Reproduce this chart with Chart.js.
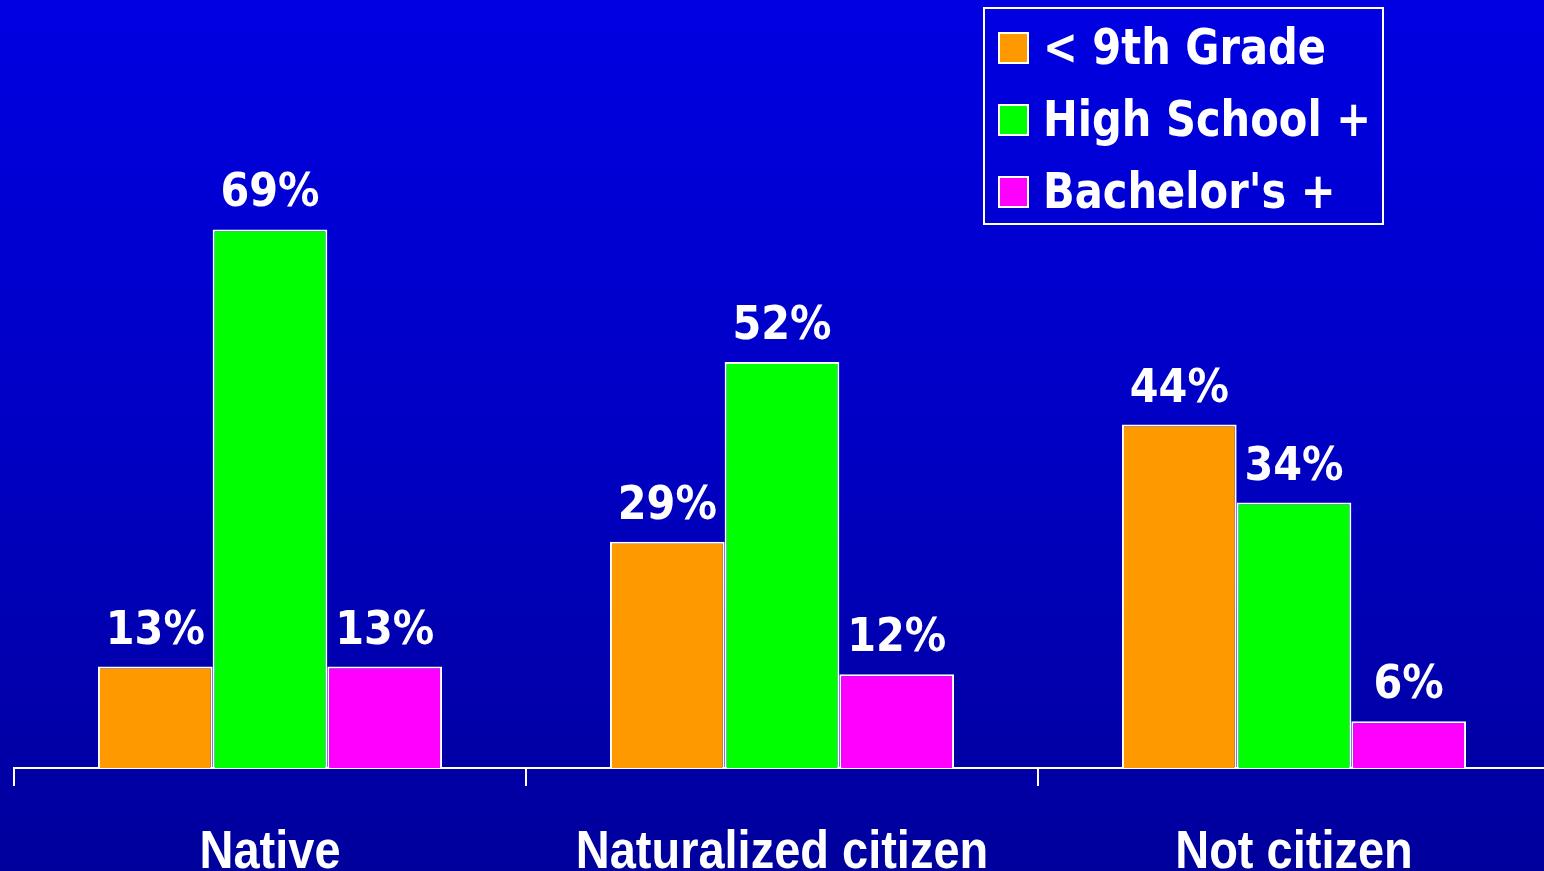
<!DOCTYPE html>
<html>
<head>
<meta charset="utf-8">
<script src="https://cdn.jsdelivr.net/npm/chart.js@4.4.0/dist/chart.umd.min.js"></script>
<style>
html,body{margin:0;padding:0;overflow:hidden;width:1544px;height:871px;}
body{background:linear-gradient(to bottom,#0000E2 0%,#0000C4 50%,#00009C 100%);}
#wrap{position:absolute;left:0;top:0;width:1560px;height:871px;}
</style>
</head>
<body>
<div id="wrap"><canvas id="c"></canvas></div>
<script>
const categories = ["Native", "Naturalized citizen", "Not citizen"];
const seriesNames = ["< 9th Grade", "High School +", "Bachelor's +"];
const below9th = [13, 29, 44];
const highSchool = [69, 52, 34];
const bachelors = [13, 12, 6];
const seriesColors = ["#FF9900", "#00FF00", "#FF00FF"];

const valueLabels = {
  id: 'valueLabels',
  afterDatasetsDraw(chart) {
    const ctx = chart.ctx;
    ctx.save();
    ctx.fillStyle = '#FFFFFF';
    ctx.font = 'bold 46px "DejaVu Sans Condensed", "DejaVu Sans"';
    ctx.textAlign = 'center';
    ctx.textBaseline = 'alphabetic';
    chart.data.datasets.forEach((ds, di) => {
      const meta = chart.getDatasetMeta(di);
      meta.data.forEach((bar, i) => {
        ctx.fillText(ds.data[i] + '%', bar.x, bar.y - 23);
      });
    });
    ctx.restore();
  }
};

const categoryLabels = {
  id: 'categoryLabels',
  afterDraw(chart) {
    const ctx = chart.ctx;
    const xs = chart.scales.x;
    ctx.save();
    ctx.fillStyle = '#FFFFFF';
    ctx.font = 'bold 54px "Liberation Sans", Arial, sans-serif';
    ctx.textAlign = 'center';
    ctx.textBaseline = 'alphabetic';
    chart.data.labels.forEach((lab, i) => {
      const x = xs.getPixelForValue(i);
      ctx.save();
      ctx.translate(x, 868);
      ctx.scale(0.87, 1);
      ctx.fillText(lab, 0, 0);
      ctx.restore();
    });
    ctx.restore();
  }
};

const boxLegend = {
  id: 'boxLegend',
  afterDraw(chart) {
    const ctx = chart.ctx;
    ctx.save();
    ctx.strokeStyle = '#FFFFFF';
    ctx.lineWidth = 2;
    ctx.strokeRect(984, 8, 399, 216);
    ctx.font = 'bold 50px "DejaVu Sans Condensed", "DejaVu Sans"';
    ctx.textAlign = 'left';
    ctx.textBaseline = 'middle';
    chart.data.datasets.forEach((ds, i) => {
      const cy = 48 + i * 72;
      ctx.fillStyle = ds.backgroundColor;
      ctx.fillRect(999, cy - 15, 29, 30);
      ctx.lineWidth = 2;
      ctx.strokeRect(999, cy - 15, 29, 30);
      ctx.fillStyle = '#FFFFFF';
      ctx.save();
      ctx.translate(1043, cy + 3);
      ctx.scale(0.925, 1);
      ctx.fillText(ds.label, 0, 0);
      ctx.restore();
    });
    ctx.restore();
  }
};

new Chart(document.getElementById('c'), {
  type: 'bar',
  data: {
    labels: categories,
    datasets: [
      {label: seriesNames[0], data: below9th, backgroundColor: seriesColors[0]},
      {label: seriesNames[1], data: highSchool, backgroundColor: seriesColors[1]},
      {label: seriesNames[2], data: bachelors, backgroundColor: seriesColors[2]}
    ]
  },
  options: {
    responsive: true,
    maintainAspectRatio: false,
    animation: false,
    datasets: {bar: {borderColor: '#FFFFFF', borderWidth: 2, categoryPercentage: 0.672, barPercentage: 1.0}},
    layout: {padding: {left: 14, right: 10, top: 142, bottom: 0}},
    plugins: {legend: {display: false}, tooltip: {enabled: false}},
    scales: {
      x: {
        offset: true,
        grid: {display: true, offset: true, drawOnChartArea: false, color: '#FFFFFF', lineWidth: 2, tickLength: 18},
        border: {display: true, color: '#FFFFFF', width: 2},
        ticks: {display: false},
        afterFit(scale) { scale.height = 103; }
      },
      y: {display: false, min: 0, max: 80.2}
    }
  },
  plugins: [valueLabels, categoryLabels, boxLegend]
});
</script>
</body>
</html>
